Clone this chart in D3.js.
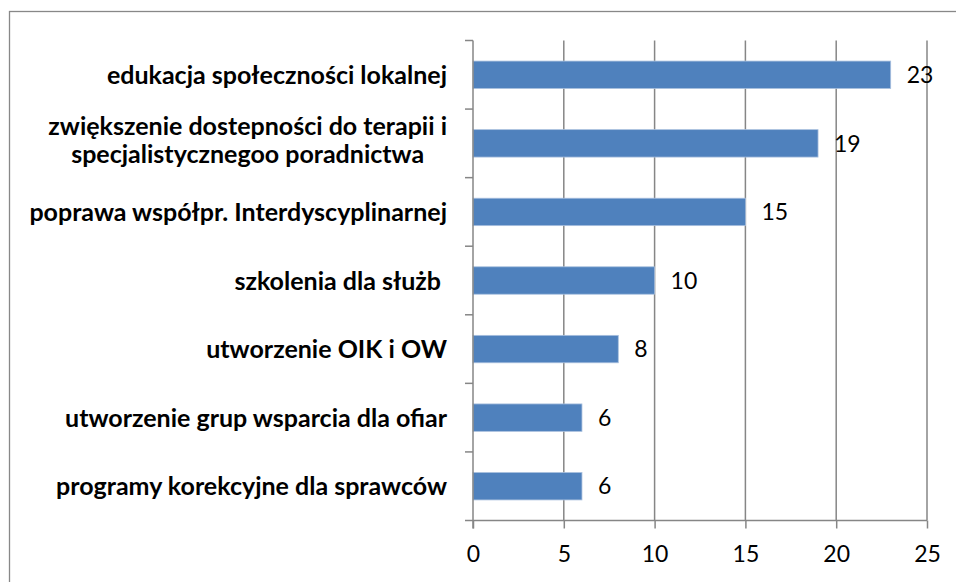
<!DOCTYPE html>
<html>
<head>
<meta charset="utf-8">
<script src="https://cdn.jsdelivr.net/npm/d3@7"></script>
<style>
  body { margin: 0; background: #fff; }
  svg { display: block; }
  text { font-family: Lato, "Open Sans", sans-serif; fill: #000; }
</style>
</head>
<body>
<div id="chart"></div>
<script>
// categories top to bottom, lines split with \n
const categories = [
    "edukacja społeczności lokalnej",
    "zwiększenie dostepności do terapii i\nspecjalistycznegoo poradnictwa",
    "poprawa współpr. Interdyscyplinarnej",
    "szkolenia dla służb ",
    "utworzenie OIK i OW",
    "utworzenie grup wsparcia dla ofiar",
    "programy korekcyjne dla sprawców"
]
const values = [23, 19, 15, 10, 8, 6, 6]
const xTicks = [0, 5, 10, 15, 20, 25]

const width = 956, height = 582
const margin = {top: 40.5, right: 29, bottom: 61.5, left: 473}

const svg = d3.select("#chart").append("svg")
    .attr("width", width).attr("height", height)

// outer chart frame (runs off right and bottom)
svg.append("rect")
    .attr("x", 9.5).attr("y", 11.5)
    .attr("width", 960).attr("height", 600)
    .attr("fill", "none").attr("stroke", "#888").attr("stroke-width", 1.3)

const x = d3.scaleLinear().domain([0, 25]).range([margin.left, width - margin.right])
const y = d3.scaleBand().domain(categories).range([margin.top, height - margin.bottom]).paddingInner(0.6).paddingOuter(0.3)
const yEdge = d3.scaleLinear().domain([0, categories.length]).range([margin.top, height - margin.bottom])

// vertical gridlines
svg.append("g").selectAll("line")
    .data(xTicks.slice(1))
    .enter().append("line")
    .attr("x1", d => x(d)).attr("x2", d => x(d))
    .attr("y1", margin.top).attr("y2", height - margin.bottom)
    .attr("stroke", "#868686").attr("stroke-width", 1.5)

// bars
svg.append("g").selectAll("rect")
    .data(values)
    .enter().append("rect")
    .attr("x", x(0))
    .attr("y", (d, i) => y(categories[i]))
    .attr("width", d => x(d) - x(0))
    .attr("height", y.bandwidth())
    .attr("fill", "#4f81bd")
    .attr("stroke", "#a9c0de").attr("stroke-width", 0.8)

// left axis line + ticks at band edges
svg.append("line")
    .attr("x1", x(0)).attr("x2", x(0))
    .attr("y1", margin.top).attr("y2", height - margin.bottom + 8)
    .attr("stroke", "#868686").attr("stroke-width", 1.5)
svg.append("g").selectAll("line")
    .data(d3.range(categories.length))
    .enter().append("line")
    .attr("x1", x(0) - 8).attr("x2", x(0))
    .attr("y1", d => yEdge(d)).attr("y2", d => yEdge(d))
    .attr("stroke", "#868686").attr("stroke-width", 1.5)

// bottom axis
const xAxis = svg.append("g")
    .attr("transform", "translate(0," + (height - margin.bottom) + ")")
    .call(d3.axisBottom(x).tickValues(xTicks).tickSizeInner(8).tickSizeOuter(0).tickPadding(17))
xAxis.select(".domain").attr("d", "M" + (x(0) - 8) + ",0H" + x(25)).attr("stroke", "#868686").attr("stroke-width", 1.5)
xAxis.selectAll(".tick line").attr("stroke", "#868686").attr("stroke-width", 1.5)
xAxis.selectAll(".tick text")
    .style("font-family", "Lato, 'Open Sans', sans-serif")
    .style("font-size", "23px").attr("fill", "#000")

// value labels
svg.append("g").selectAll("text")
    .data(values)
    .enter().append("text")
    .attr("x", d => x(d) + 16)
    .attr("y", (d, i) => y(categories[i]) + y.bandwidth() / 2)
    .attr("dy", "0.36em")
    .style("font-size", "23px")
    .text(d => d)

// category labels, right aligned block, lines centred in block
const labelRight = 447
categories.forEach((c, i) => {
    const lines = c.split("\n")
    const cy = y(c) + y.bandwidth() / 2 - (lines.length > 1 ? 3 : 0)
    const g = svg.append("g")
    const texts = lines.map((ln, j) => g.append("text")
        .attr("y", cy + (j - (lines.length - 1) / 2) * 28)
        .attr("dy", "0.36em")
        .style("font-size", "25px").style("font-weight", "bold")
        .style("white-space", "pre")
        .text(ln))
    const maxW = d3.max(texts, t => t.node().getComputedTextLength())
    texts.forEach(t => {
        if (lines.length > 1) {
            t.attr("x", labelRight - maxW / 2).attr("text-anchor", "middle")
        } else {
            t.attr("x", labelRight).attr("text-anchor", "end")
        }
    })
})
</script>
</body>
</html>
